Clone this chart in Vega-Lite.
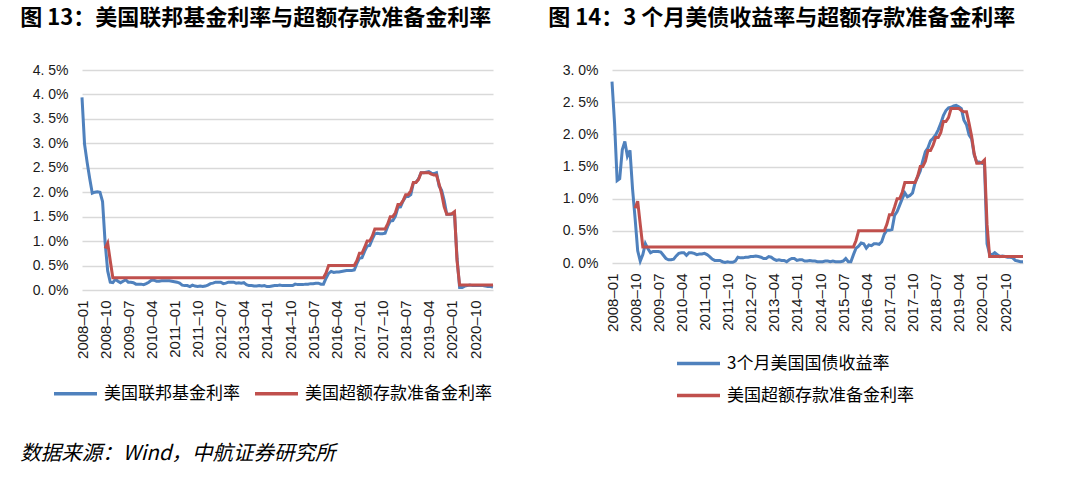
{
  "$schema": "https://vega.github.io/schema/vega-lite/v6.json",
  "background": "white",
  "padding": {"left": 20, "top": 7, "right": 5, "bottom": 5},
  "datasets": {
    "rates": [
      {"m":"2008-01","f":3.94,"t":2.82},
      {"m":"2008-02","f":2.98,"t":2.17},
      {"m":"2008-03","f":2.61,"t":1.28},
      {"m":"2008-04","f":2.28,"t":1.31},
      {"m":"2008-05","f":1.98,"t":1.76},
      {"m":"2008-06","f":2.00,"t":1.89},
      {"m":"2008-07","f":2.01,"t":1.66},
      {"m":"2008-08","f":2.00,"t":1.75},
      {"m":"2008-09","f":1.81,"t":1.15},
      {"m":"2008-10","f":0.97,"t":0.69,"i":0.85},
      {"m":"2008-11","f":0.39,"t":0.19,"i":0.96},
      {"m":"2008-12","f":0.16,"t":0.03,"i":0.60},
      {"m":"2009-01","f":0.15,"t":0.13,"i":0.25},
      {"m":"2009-02","f":0.22,"t":0.30,"i":0.25},
      {"m":"2009-03","f":0.18,"t":0.22,"i":0.25},
      {"m":"2009-04","f":0.15,"t":0.16,"i":0.25},
      {"m":"2009-05","f":0.18,"t":0.18,"i":0.25},
      {"m":"2009-06","f":0.21,"t":0.18,"i":0.25},
      {"m":"2009-07","f":0.16,"t":0.18,"i":0.25},
      {"m":"2009-08","f":0.16,"t":0.17,"i":0.25},
      {"m":"2009-09","f":0.15,"t":0.12,"i":0.25},
      {"m":"2009-10","f":0.12,"t":0.07,"i":0.25},
      {"m":"2009-11","f":0.12,"t":0.05,"i":0.25},
      {"m":"2009-12","f":0.12,"t":0.05,"i":0.25},
      {"m":"2010-01","f":0.11,"t":0.06,"i":0.25},
      {"m":"2010-02","f":0.13,"t":0.11,"i":0.25},
      {"m":"2010-03","f":0.16,"t":0.15,"i":0.25},
      {"m":"2010-04","f":0.20,"t":0.16,"i":0.25},
      {"m":"2010-05","f":0.20,"t":0.16,"i":0.25},
      {"m":"2010-06","f":0.18,"t":0.12,"i":0.25},
      {"m":"2010-07","f":0.18,"t":0.16,"i":0.25},
      {"m":"2010-08","f":0.19,"t":0.16,"i":0.25},
      {"m":"2010-09","f":0.19,"t":0.15,"i":0.25},
      {"m":"2010-10","f":0.19,"t":0.13,"i":0.25},
      {"m":"2010-11","f":0.19,"t":0.14,"i":0.25},
      {"m":"2010-12","f":0.18,"t":0.14,"i":0.25},
      {"m":"2011-01","f":0.17,"t":0.15,"i":0.25},
      {"m":"2011-02","f":0.16,"t":0.13,"i":0.25},
      {"m":"2011-03","f":0.14,"t":0.10,"i":0.25},
      {"m":"2011-04","f":0.10,"t":0.06,"i":0.25},
      {"m":"2011-05","f":0.09,"t":0.04,"i":0.25},
      {"m":"2011-06","f":0.09,"t":0.04,"i":0.25},
      {"m":"2011-07","f":0.07,"t":0.04,"i":0.25},
      {"m":"2011-08","f":0.10,"t":0.02,"i":0.25},
      {"m":"2011-09","f":0.08,"t":0.01,"i":0.25},
      {"m":"2011-10","f":0.07,"t":0.02,"i":0.25},
      {"m":"2011-11","f":0.08,"t":0.01,"i":0.25},
      {"m":"2011-12","f":0.07,"t":0.01,"i":0.25},
      {"m":"2012-01","f":0.08,"t":0.03,"i":0.25},
      {"m":"2012-02","f":0.10,"t":0.09,"i":0.25},
      {"m":"2012-03","f":0.13,"t":0.08,"i":0.25},
      {"m":"2012-04","f":0.14,"t":0.08,"i":0.25},
      {"m":"2012-05","f":0.16,"t":0.09,"i":0.25},
      {"m":"2012-06","f":0.16,"t":0.09,"i":0.25},
      {"m":"2012-07","f":0.16,"t":0.10,"i":0.25},
      {"m":"2012-08","f":0.13,"t":0.10,"i":0.25},
      {"m":"2012-09","f":0.14,"t":0.11,"i":0.25},
      {"m":"2012-10","f":0.16,"t":0.10,"i":0.25},
      {"m":"2012-11","f":0.16,"t":0.09,"i":0.25},
      {"m":"2012-12","f":0.16,"t":0.07,"i":0.25},
      {"m":"2013-01","f":0.14,"t":0.07,"i":0.25},
      {"m":"2013-02","f":0.15,"t":0.10,"i":0.25},
      {"m":"2013-03","f":0.14,"t":0.09,"i":0.25},
      {"m":"2013-04","f":0.15,"t":0.06,"i":0.25},
      {"m":"2013-05","f":0.11,"t":0.04,"i":0.25},
      {"m":"2013-06","f":0.09,"t":0.05,"i":0.25},
      {"m":"2013-07","f":0.09,"t":0.04,"i":0.25},
      {"m":"2013-08","f":0.08,"t":0.04,"i":0.25},
      {"m":"2013-09","f":0.08,"t":0.02,"i":0.25},
      {"m":"2013-10","f":0.09,"t":0.05,"i":0.25},
      {"m":"2013-11","f":0.08,"t":0.07,"i":0.25},
      {"m":"2013-12","f":0.09,"t":0.07,"i":0.25},
      {"m":"2014-01","f":0.07,"t":0.04,"i":0.25},
      {"m":"2014-02","f":0.07,"t":0.05,"i":0.25},
      {"m":"2014-03","f":0.08,"t":0.05,"i":0.25},
      {"m":"2014-04","f":0.09,"t":0.03,"i":0.25},
      {"m":"2014-05","f":0.09,"t":0.03,"i":0.25},
      {"m":"2014-06","f":0.10,"t":0.04,"i":0.25},
      {"m":"2014-07","f":0.09,"t":0.03,"i":0.25},
      {"m":"2014-08","f":0.09,"t":0.03,"i":0.25},
      {"m":"2014-09","f":0.09,"t":0.02,"i":0.25},
      {"m":"2014-10","f":0.09,"t":0.02,"i":0.25},
      {"m":"2014-11","f":0.09,"t":0.02,"i":0.25},
      {"m":"2014-12","f":0.12,"t":0.03,"i":0.25},
      {"m":"2015-01","f":0.11,"t":0.03,"i":0.25},
      {"m":"2015-02","f":0.11,"t":0.02,"i":0.25},
      {"m":"2015-03","f":0.11,"t":0.03,"i":0.25},
      {"m":"2015-04","f":0.12,"t":0.02,"i":0.25},
      {"m":"2015-05","f":0.12,"t":0.02,"i":0.25},
      {"m":"2015-06","f":0.13,"t":0.02,"i":0.25},
      {"m":"2015-07","f":0.13,"t":0.03,"i":0.25},
      {"m":"2015-08","f":0.14,"t":0.07,"i":0.25},
      {"m":"2015-09","f":0.14,"t":0.02,"i":0.25},
      {"m":"2015-10","f":0.12,"t":0.02,"i":0.25},
      {"m":"2015-11","f":0.12,"t":0.13,"i":0.25},
      {"m":"2015-12","f":0.24,"t":0.23,"i":0.35},
      {"m":"2016-01","f":0.34,"t":0.26,"i":0.50},
      {"m":"2016-02","f":0.38,"t":0.31,"i":0.50},
      {"m":"2016-03","f":0.36,"t":0.30,"i":0.50},
      {"m":"2016-04","f":0.37,"t":0.23,"i":0.50},
      {"m":"2016-05","f":0.37,"t":0.28,"i":0.50},
      {"m":"2016-06","f":0.38,"t":0.27,"i":0.50},
      {"m":"2016-07","f":0.39,"t":0.30,"i":0.50},
      {"m":"2016-08","f":0.40,"t":0.30,"i":0.50},
      {"m":"2016-09","f":0.40,"t":0.29,"i":0.50},
      {"m":"2016-10","f":0.40,"t":0.33,"i":0.50},
      {"m":"2016-11","f":0.41,"t":0.45,"i":0.50},
      {"m":"2016-12","f":0.54,"t":0.51,"i":0.60},
      {"m":"2017-01","f":0.65,"t":0.51,"i":0.75},
      {"m":"2017-02","f":0.66,"t":0.52,"i":0.75},
      {"m":"2017-03","f":0.79,"t":0.74,"i":0.87},
      {"m":"2017-04","f":0.90,"t":0.80,"i":1.00},
      {"m":"2017-05","f":0.91,"t":0.90,"i":1.00},
      {"m":"2017-06","f":1.04,"t":1.00,"i":1.10},
      {"m":"2017-07","f":1.15,"t":1.09,"i":1.25},
      {"m":"2017-08","f":1.16,"t":1.03,"i":1.25},
      {"m":"2017-09","f":1.15,"t":1.05,"i":1.25},
      {"m":"2017-10","f":1.15,"t":1.09,"i":1.25},
      {"m":"2017-11","f":1.16,"t":1.25,"i":1.25},
      {"m":"2017-12","f":1.30,"t":1.34,"i":1.35},
      {"m":"2018-01","f":1.41,"t":1.43,"i":1.50},
      {"m":"2018-02","f":1.42,"t":1.59,"i":1.50},
      {"m":"2018-03","f":1.51,"t":1.73,"i":1.58},
      {"m":"2018-04","f":1.69,"t":1.79,"i":1.75},
      {"m":"2018-05","f":1.70,"t":1.90,"i":1.75},
      {"m":"2018-06","f":1.82,"t":1.94,"i":1.83},
      {"m":"2018-07","f":1.91,"t":1.99,"i":1.95},
      {"m":"2018-08","f":1.91,"t":2.07,"i":1.95},
      {"m":"2018-09","f":1.95,"t":2.17,"i":2.03},
      {"m":"2018-10","f":2.19,"t":2.29,"i":2.20},
      {"m":"2018-11","f":2.20,"t":2.37,"i":2.20},
      {"m":"2018-12","f":2.27,"t":2.41,"i":2.26},
      {"m":"2019-01","f":2.40,"t":2.42,"i":2.40},
      {"m":"2019-02","f":2.40,"t":2.44,"i":2.40},
      {"m":"2019-03","f":2.41,"t":2.45,"i":2.40},
      {"m":"2019-04","f":2.42,"t":2.43,"i":2.40},
      {"m":"2019-05","f":2.39,"t":2.40,"i":2.37},
      {"m":"2019-06","f":2.38,"t":2.22,"i":2.35},
      {"m":"2019-07","f":2.40,"t":2.15,"i":2.35},
      {"m":"2019-08","f":2.13,"t":1.99,"i":2.17},
      {"m":"2019-09","f":2.04,"t":1.93,"i":1.97},
      {"m":"2019-10","f":1.83,"t":1.68,"i":1.70},
      {"m":"2019-11","f":1.55,"t":1.57,"i":1.55},
      {"m":"2019-12","f":1.55,"t":1.57,"i":1.55},
      {"m":"2020-01","f":1.55,"t":1.55,"i":1.56},
      {"m":"2020-02","f":1.58,"t":1.54,"i":1.60},
      {"m":"2020-03","f":0.65,"t":0.30,"i":0.60},
      {"m":"2020-04","f":0.05,"t":0.14,"i":0.10},
      {"m":"2020-05","f":0.05,"t":0.13,"i":0.10},
      {"m":"2020-06","f":0.08,"t":0.16,"i":0.10},
      {"m":"2020-07","f":0.09,"t":0.13,"i":0.10},
      {"m":"2020-08","f":0.10,"t":0.10,"i":0.10},
      {"m":"2020-09","f":0.09,"t":0.11,"i":0.10},
      {"m":"2020-10","f":0.09,"t":0.10,"i":0.10},
      {"m":"2020-11","f":0.09,"t":0.09,"i":0.10},
      {"m":"2020-12","f":0.09,"t":0.09,"i":0.10},
      {"m":"2021-01","f":0.09,"t":0.08,"i":0.10},
      {"m":"2021-02","f":0.08,"t":0.04,"i":0.10},
      {"m":"2021-03","f":0.07,"t":0.03,"i":0.10},
      {"m":"2021-04","f":0.07,"t":0.02,"i":0.10},
      {"m":"2021-05","f":0.06,"t":0.02,"i":0.10}
    ]
  },
  "title": {
    "text": "数据来源：Wind，中航证券研究所",
    "orient": "bottom",
    "anchor": "start",
    "font": "Noto Sans CJK SC",
    "fontSize": 20.5,
    "fontStyle": "italic",
    "fontWeight": "normal",
    "color": "#000000",
    "offset": 40
  },
  "spacing": 49,
  "resolve": {
    "scale": {"color": "independent", "x": "independent", "y": "independent"},
    "legend": {"color": "independent"}
  },
  "hconcat": [
    {
      "width": 411,
      "height": 220,
      "title": {
        "text": "图 13：美国联邦基金利率与超额存款准备金利率",
        "anchor": "start",
        "font": "Noto Sans CJK SC",
        "fontSize": 22,
        "fontWeight": "bold",
        "color": "#000000",
        "dx": -12,
        "offset": 33
      },
      "data": {"name": "rates"},
      "transform": [
        {"fold": ["f", "i"], "as": ["k", "v"]},
        {"filter": "isValid(datum.v)"}
      ],
      "mark": {"type": "line", "strokeWidth": 3},
      "encoding": {
        "x": {
          "field": "m",
          "type": "ordinal",
          "scale": {"type": "point", "padding": 0},
          "axis": {
            "title": null,
            "values": ["2008-01","2008-10","2009-07","2010-04","2011-01","2011-10","2012-07","2013-04","2014-01","2014-10","2015-07","2016-04","2017-01","2017-10","2018-07","2019-04","2020-01","2020-10"],
            "labelAngle": -90,
            "labelExpr": "replace(datum.label, '-', '–')",
            "labelFontSize": 15,
            "labelPadding": 10,
            "grid": false
          }
        },
        "y": {
          "field": "v",
          "type": "quantitative",
          "scale": {"domain": [0, 4.5]},
          "axis": {
            "title": null,
            "values": [0, 0.5, 1, 1.5, 2, 2.5, 3, 3.5, 4, 4.5],
            "labelExpr": "replace(format(datum.value, '.1f'), '.', '. ') + '%'",
            "labelFontSize": 14,
            "labelPadding": 14,
            "grid": true
          }
        },
        "color": {
          "field": "k",
          "type": "nominal",
          "scale": {"domain": ["f", "i"], "range": ["#4F81BD", "#C0504D"]},
          "legend": {
            "orient": "none",
            "legendX": -30,
            "legendY": 300,
            "direction": "horizontal",
            "title": null,
            "labelExpr": "datum.label == 'f' ? '美国联邦基金利率' : '美国超额存款准备金利率'"
          }
        }
      }
    },
    {
      "width": 411,
      "height": 193,
      "title": {
        "text": "图 14：3 个月美债收益率与超额存款准备金利率",
        "anchor": "start",
        "font": "Noto Sans CJK SC",
        "fontSize": 22,
        "fontWeight": "bold",
        "color": "#000000",
        "dx": -14,
        "offset": 33
      },
      "data": {"name": "rates"},
      "transform": [
        {"fold": ["t", "i"], "as": ["k", "v"]},
        {"filter": "isValid(datum.v)"}
      ],
      "mark": {"type": "line", "strokeWidth": 3},
      "encoding": {
        "x": {
          "field": "m",
          "type": "ordinal",
          "scale": {"type": "point", "padding": 0},
          "axis": {
            "title": null,
            "values": ["2008-01","2008-10","2009-07","2010-04","2011-01","2011-10","2012-07","2013-04","2014-01","2014-10","2015-07","2016-04","2017-01","2017-10","2018-07","2019-04","2020-01","2020-10"],
            "labelAngle": -90,
            "labelExpr": "replace(datum.label, '-', '–')",
            "labelFontSize": 15,
            "labelPadding": 10,
            "grid": false
          }
        },
        "y": {
          "field": "v",
          "type": "quantitative",
          "scale": {"domain": [0, 3]},
          "axis": {
            "title": null,
            "values": [0, 0.5, 1, 1.5, 2, 2.5, 3],
            "labelExpr": "replace(format(datum.value, '.1f'), '.', '. ') + '%'",
            "labelFontSize": 14,
            "labelPadding": 14,
            "grid": true
          }
        },
        "color": {
          "field": "k",
          "type": "nominal",
          "scale": {"domain": ["t", "i"], "range": ["#4F81BD", "#C0504D"]},
          "legend": {
            "orient": "none",
            "legendX": 63,
            "legendY": 270,
            "direction": "vertical",
            "rowPadding": -2,
            "title": null,
            "labelExpr": "datum.label == 't' ? '3个月美国国债收益率' : '美国超额存款准备金利率'"
          }
        }
      }
    }
  ],
  "config": {
    "view": {"stroke": null},
    "axis": {
      "domain": false,
      "ticks": false,
      "tickSize": 0,
      "labelFont": "Liberation Sans",
      "labelColor": "#1a1a1a",
      "gridColor": "#d9d9d9",
      "gridWidth": 1.5
    },
    "legend": {
      "symbolType": "stroke",
      "symbolSize": 1849,
      "symbolStrokeWidth": 3.5,
      "labelFont": "Noto Sans CJK SC",
      "labelFontSize": 17,
      "labelColor": "#000000",
      "labelLimit": 400,
      "labelOffset": 5,
      "columnPadding": 8,
      "rowPadding": 0,
      "padding": 0
    }
  }
}
